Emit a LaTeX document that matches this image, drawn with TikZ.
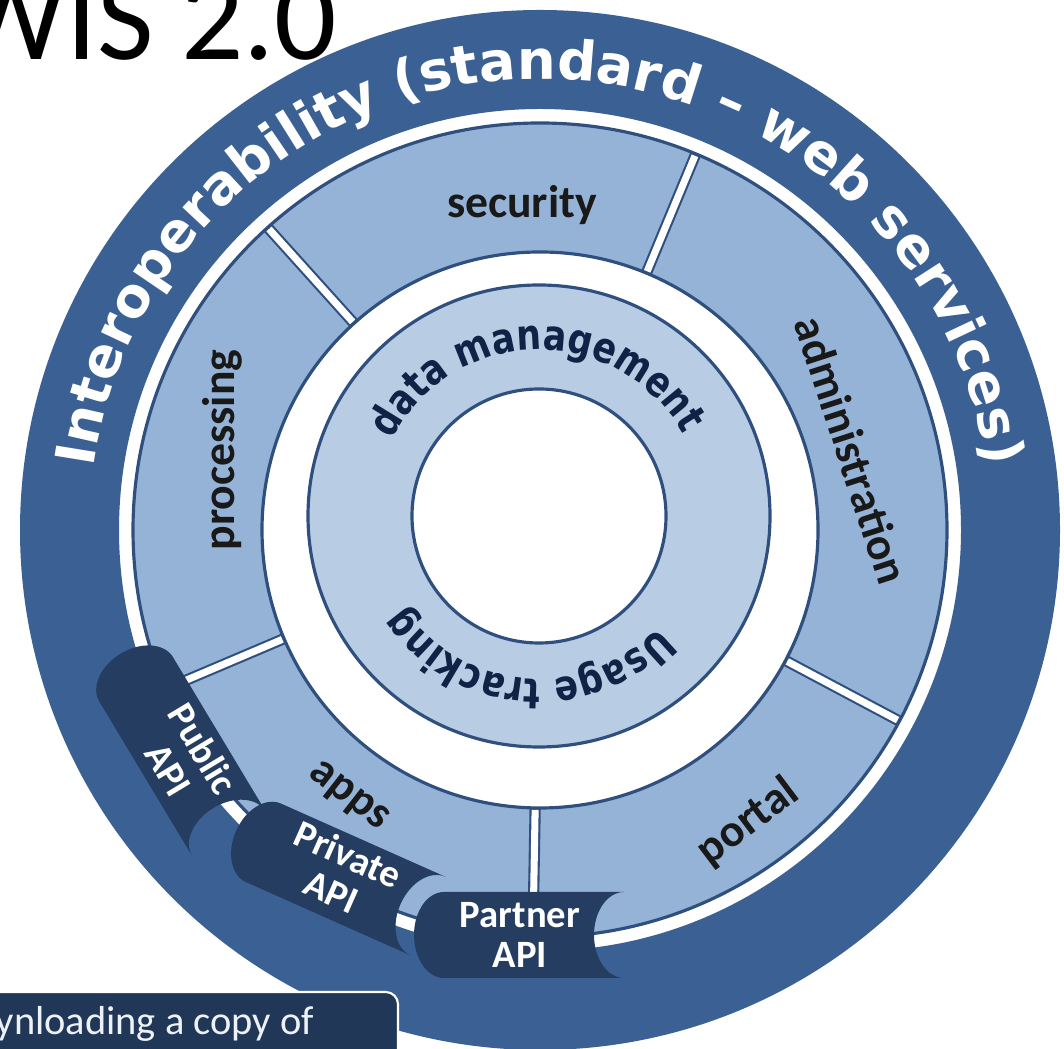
\documentclass[tikz,border=0pt]{standalone}
\usepackage{fontspec}
\setmainfont{Carlito}
\newfontfamily\djb{DejaVu Sans}
\newfontfamily\djc{DejaVu Sans}[FakeStretch=0.82]
\usetikzlibrary{decorations.text,calc}
\definecolor{ringdark}{HTML}{3B6194}
\definecolor{segfill}{HTML}{95B3D7}
\definecolor{datafill}{HTML}{B8CCE4}
\definecolor{edgeblue}{HTML}{2F507E}
\definecolor{tabblue}{HTML}{243D61}
\definecolor{navytext}{HTML}{0F2346}
\definecolor{boxblue}{HTML}{213758}
\definecolor{boxtext}{HTML}{EEF2F7}
\tikzset{
  seglabel/.style={font=\bfseries\fontsize{13}{13}\selectfont, text=black!90, inner sep=0pt},
  tabtext/.style={font=\bfseries\fontsize{11}{11.5}\selectfont, text=white, align=center, inner sep=0pt},
  apitab/.pic={\fill[tabblue] (-90,43) -- (90,43) arc[start angle=90, end angle=270, x radius=30, y radius=43] -- (-90,-43) arc[start angle=-90, end angle=-270, x radius=30, y radius=43] -- cycle;},
  divider/.style={edgeblue, line width=3.2pt},
  dividerwhite/.style={white, line width=2.0pt}
}
\begin{document}
\begin{tikzpicture}[x=0.01cm, y=0.01cm]
\useasboundingbox (0,0) rectangle (1064,1049);
\coordinate (C) at (540,519);
\coordinate (D) at (539,533);
% title
\node[anchor=base east, font=\fontsize{35}{35}\selectfont, inner sep=0pt] (title) at (338,989) {WIS 2.0};
% rings
\fill[ringdark, even odd rule] (C) circle[radius=520] (C) circle[radius=421];
\filldraw[fill=segfill, draw=edgeblue, line width=0.9pt, even odd rule] (C) circle[radius=407] (C) circle[radius=278];
\filldraw[fill=datafill, draw=edgeblue, line width=0.9pt, even odd rule] (D) circle[radius=231] (D) circle[radius=127];
% dividers
\foreach \a in {132,67.5,-28,-91,203} {
  \draw[divider] ($(C)+(\a:278)$) -- ($(C)+(\a:407)$);
  \draw[dividerwhite] ($(C)+(\a:280)$) -- ($(C)+(\a:405)$);
}
% curved texts
\path[decorate, decoration={text along path, text align={fit to path},
  text={|\djb\bfseries\fontsize{15.5}{15.5}\selectfont\color{white}|Interoperability (standard – web services)}}]
  ($(C)+(172:451)$) arc[start angle=172, end angle=8, radius=451];
\path[decorate, decoration={text along path, text align=center,
  text={|\djc\bfseries\fontsize{12}{12}\selectfont\color{navytext}|data management}}]
  ($(D)+(161:166)$) arc[start angle=161, end angle=21, radius=166];
\path[decorate, decoration={text along path, text align=center,
  text={|\djc\bfseries\fontsize{12}{12}\selectfont\color{navytext}|Usage tracking}}]
  ($(D)+(-25:163)$) arc[start angle=-25, end angle=-164, radius=163];
% segment labels
\node[seglabel, anchor=base] (security) at (522,831) {security};
\node[seglabel, rotate=90] (processing) at (222,599) {processing};
\node[seglabel, rotate=-72] (administration) at (852,599) {administration};
\node[seglabel, rotate=-38] (apps) at (348,252) {apps};
\node[seglabel, rotate=37] (portal) at (748,227) {portal};
% API tabs
\pic[rotate=-59] at (182.5,292.5) {apitab};
\node[tabtext, rotate=-59] (public) at (186,290) {Public\\API};
\pic[rotate=-24] at (345.8,169.5) {apitab};
\node[tabtext, rotate=-24] (private) at (340,176) {Private\\API};
\pic at (534,114) {apitab};
\node[tabtext] (partner) at (520,114) {Partner\\API};
% bottom box
\filldraw[draw=white, line width=0.6pt, fill=boxblue, rounded corners=3.5pt] (-30,-30) rectangle (398,57);
\node[anchor=base west, text=boxtext, font=\fontsize{11.5}{13}\selectfont, inner sep=0pt] (boxtxt) at (-5,14) {ynloading a copy of};
\end{tikzpicture}
\end{document}
